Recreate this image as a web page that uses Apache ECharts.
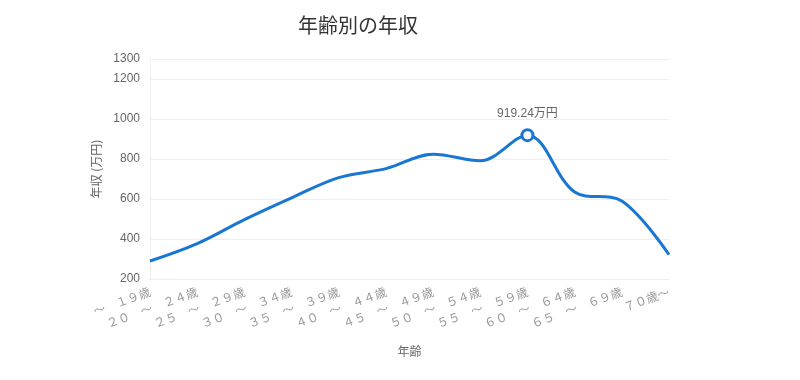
<!DOCTYPE html>
<html>
<head>
<meta charset="utf-8">
<script src="https://cdn.jsdelivr.net/npm/echarts@6/dist/echarts.min.js"></script>
<style>html,body{margin:0;padding:0;background:#fff}#c{width:800px;height:380px}</style>
</head>
<body>
<div id="c"></div>
<script>
const categories = ['～　１９歳', '２０　～　２４歳', '２５　～　２９歳', '３０　～　３４歳', '３５　～　３９歳', '４０　～　４４歳', '４５　～　４９歳', '５０　～　５４歳', '５５　～　５９歳', '６０　～　６４歳', '６５　～　６９歳', '７０歳～'];
const incomes = [290, 377, 497, 606, 707, 752, 824, 791, 919.24, 635, 590, 322];
const highlightIndex = 8;
const highlightLabel = '919.24万円';

const font = '"Noto Sans CJK JP", "Noto Sans", sans-serif';
const numFont = '"Liberation Sans", Arial, "Noto Sans CJK JP", sans-serif';
const seriesData = incomes.map((v, i) => i === highlightIndex ? {
  value: v,
  symbol: 'circle',
  symbolSize: 11,
  itemStyle: { color: '#fff', borderColor: '#1976d2', borderWidth: 3 },
  label: { show: true, position: 'top', distance: 8, formatter: highlightLabel, color: '#666', fontSize: 12, fontFamily: numFont }
} : { value: v, symbol: 'none' });

const chart = echarts.init(document.getElementById('c'));
chart.setOption({
  animation: false,
  title: {
    text: '年齢別の年収',
    left: 293, top: 10,
    textStyle: { fontSize: 20, fontWeight: 'normal', color: '#333', fontFamily: font }
  },
  grid: { left: 150, right: 131, top: 59, bottom: 101, containLabel: false },
  xAxis: {
    type: 'category',
    data: categories,
    boundaryGap: false,
    name: '年齢',
    nameLocation: 'middle',
    nameGap: 66,
    nameTextStyle: { color: '#666', fontSize: 12, fontFamily: font },
    axisLine: { show: true, lineStyle: { color: '#eee' } },
    axisTick: { show: false },
    axisLabel: { rotate: 20, color: '#999', fontSize: 12, fontFamily: font, margin: 12, interval: 0 },
    splitLine: { show: false }
  },
  yAxis: {
    type: 'value',
    min: 200, max: 1300, interval: 200,
    name: '年収 (万円)',
    nameLocation: 'middle',
    nameGap: 48,
    nameTextStyle: { color: '#666', fontSize: 12, fontFamily: font },
    axisLine: { show: true, lineStyle: { color: '#eee' } },
    axisTick: { show: false },
    axisLabel: { color: '#666', fontSize: 12, fontFamily: numFont, margin: 10, showMaxLabel: true, formatter: v => String(v) },
    splitLine: { lineStyle: { color: '#eee' } }
  },
  series: [{
    type: 'line',
    data: seriesData,
    smooth: 0.35,
    showSymbol: true,
    lineStyle: { color: '#1976d2', width: 3 },
    itemStyle: { color: '#1976d2' },
    z: 3
  }]
});
</script>
</body>
</html>
